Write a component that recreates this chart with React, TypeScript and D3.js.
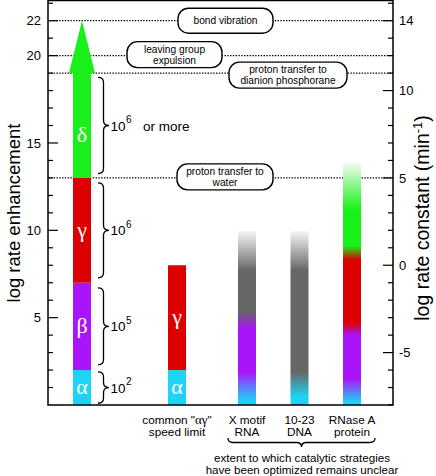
import React from 'react';
import * as d3 from 'd3';

const W = 436;
const H = 476;

// ---- data ----
const leftMajorTicks = [5, 10, 15, 20, 22];
const rightMajorTicks = [-5, 0, 5, 10, 14];
const refLevels = [
  { value: 22, lines: ['bond vibration'] },
  { value: 20, lines: ['leaving group', 'expulsion'] },
  { value: 19, lines: ['proton transfer to', 'dianion phosphorane'] },
  { value: 13, lines: ['proton transfer to', 'water'] },
];
const stepSymbols = ['α', 'β', 'γ', 'δ'];
const stepLows = [0, 2, 7, 13];
const stepHighs = [2, 7, 13, 19];
const arrowTip = 22;
const braceExponents = ['2', '5', '6', '6'];
const braceExtras = ['', '', '', 'or more'];
const limitSymbols = ['α', 'γ'];
const limitLows = [0, 2];
const limitHighs = [2, 8];
const catalysts = ['X motif', '10-23', 'RNase A'];
const catalystKinds = ['RNA', 'DNA', 'protein'];
// gradient stops: [log rate enhancement, colour]
const xMotifStops: [number, string][] = [
  [0, 'cyan'], [0.25, 'cyan'], [1.9, 'purple'], [4.3, 'purple'], [5.4, 'gray'], [7.7, 'gray'], [9.95, 'fade'],
];
const dnaStops: [number, string][] = [
  [0, 'cyan'], [0.45, 'cyan'], [1.9, 'gray'], [7.7, 'gray'], [9.95, 'fade'],
];
const rnaseStops: [number, string][] = [
  [0, 'cyan'], [0.15, 'cyan'], [1.5, 'purple'], [4.0, 'purple'], [4.7, 'red'], [8.3, 'red'], [9.1, 'green'], [11.2, 'green'], [13.85, 'fadeGreen'],
];
const catalystStops = [xMotifStops, dnaStops, rnaseStops];

// ---- style ----
const COLORS: Record<string, string> = {
  cyan: '#1ed4f6',
  purple: '#aa14fa',
  red: '#dd0000',
  green: '#19f019',
  gray: '#666666',
  fade: '#f6f6f6',
  fadeGreen: '#f2fcf2',
};
const stepColors = [COLORS.cyan, COLORS.purple, COLORS.red, COLORS.green];
const limitColors = [COLORS.cyan, COLORS.red];
const SANS = '"Liberation Sans", Arial, Helvetica, sans-serif';
const SERIF = '"Liberation Serif", "Times New Roman", serif';

const frame = { left: 48, right: 393, top: 0.5, bottom: 405 };
const boxLayout = [
  { cx: 225.5, w: 95, dy: 0 },
  { cx: 174.5, w: 95, dy: -1 },
  { cx: 288, w: 118, dy: 2 },
  { cx: 225, w: 96, dy: -1 },
];

export default function App() {
  const y = d3.scaleLinear().domain([0, 22]).range([frame.bottom, 20.7]);
  const yR = d3.scaleLinear().domain([-8, 14]).range([frame.bottom, 20.7]);
  const leftMinor = d3.range(1, 24);
  const rightMinor = d3.range(-8, 16).filter((v) => yR(v) > frame.top + 1);

  const columns = ['steps', 'limit', ...catalysts];
  const x = d3.scaleOrdinal<string, number>().domain(columns).range([82, 177, 247, 299.5, 352]);
  const barW = 18;

  const braceX = 98;
  const bracePath = (lo: number, hi: number) => {
    const y1 = y(hi);
    const y2 = y(lo);
    const ym = (y1 + y2) / 2;
    const x0 = braceX;
    const xm = x0 + 5.5;
    const xt = x0 + 11;
    const r = Math.min(5, (y2 - y1) / 4);
    return `M${x0},${y1} Q${xm},${y1} ${xm},${y1 + r} L${xm},${ym - r} Q${xm},${ym} ${xt},${ym} Q${xm},${ym} ${xm},${ym + r} L${xm},${y2 - r} Q${xm},${y2} ${x0},${y2}`;
  };
  const braceInset = [0.1, 0.3, 0.28, 0.25];

  const hBrace = (xa: number, xb: number, yt: number) => {
    const xm = (xa + xb) / 2;
    const ymid = yt + 4.5;
    const ytip = yt + 9;
    const r = 5;
    return `M${xa},${yt} Q${xa},${ymid} ${xa + r},${ymid} L${xm - r},${ymid} Q${xm},${ymid} ${xm},${ytip} Q${xm},${ymid} ${xm + r},${ymid} L${xb - r},${ymid} Q${xb},${ymid} ${xb},${yt}`;
  };

  const sx = x('steps');
  const arrowPts = [
    [sx - barW / 2, y(stepLows[3])],
    [sx - barW / 2, y(stepHighs[3])],
    [sx - 13, y(stepHighs[3])],
    [sx, y(arrowTip)],
    [sx + 13, y(stepHighs[3])],
    [sx + barW / 2, y(stepHighs[3])],
    [sx + barW / 2, y(stepLows[3])],
  ];

  return (
    <svg width={W} height={H} style={{ position: 'absolute', left: 0, top: 0, background: '#fff' }} fontFamily={SANS}>
      <defs>
        {catalystStops.map((stops, i) => {
          const top = stops[stops.length - 1][0];
          return (
            <linearGradient key={i} id={`g${i}`} gradientUnits="userSpaceOnUse" x1={0} x2={0} y1={y(0)} y2={y(top)}>
              {stops.map(([v, c], j) => (
                <stop key={j} offset={v / top} stopColor={COLORS[c]} />
              ))}
            </linearGradient>
          );
        })}
      </defs>

      {/* reference dotted lines */}
      {refLevels.map((r) => (
        <line key={r.value} x1={frame.left} x2={frame.right} y1={y(r.value)} y2={y(r.value)} stroke="#000" strokeWidth={1.2} strokeDasharray="1.4,1.4" />
      ))}

      {/* step bar */}
      {stepSymbols.map((s, i) =>
        i < 3 ? (
          <rect key={s} x={sx - barW / 2} y={y(stepHighs[i])} width={barW} height={y(stepLows[i]) - y(stepHighs[i])} fill={stepColors[i]} />
        ) : (
          <polygon key={s} points={arrowPts.map((p) => p.join(',')).join(' ')} fill={stepColors[i]} />
        )
      )}
      {stepSymbols.map((s, i) => (
        <text key={s} x={sx} y={y(i === 3 ? 15.4 : (stepLows[i] + stepHighs[i]) / 2) + 6.5} textAnchor="middle" fill="#fff" fontFamily={SERIF} fontSize={22}>
          {s}
        </text>
      ))}

      {/* braces */}
      {braceExponents.map((e, i) => {
        const lo = stepLows[i] + braceInset[i];
        const hi = stepHighs[i] - (i === 0 ? 0.1 : braceInset[i]);
        const ym = y((lo + hi) / 2);
        return (
          <g key={i}>
            <path d={bracePath(lo, hi)} fill="none" stroke="#000" strokeWidth={1.3} />
            <text x={braceX + 12.5} y={ym + 5} fontSize={13.5}>
              10
            </text>
            <text x={braceX + 28} y={ym - 2.5} fontSize={10}>
              {e}
            </text>
            {braceExtras[i] && (
              <text x={braceX + 45} y={ym + 5} fontSize={13.5}>
                {braceExtras[i]}
              </text>
            )}
          </g>
        );
      })}

      {/* common speed limit bar */}
      {limitSymbols.map((s, i) => (
        <g key={s}>
          <rect x={x('limit') - barW / 2} y={y(limitHighs[i])} width={barW} height={y(limitLows[i]) - y(limitHighs[i])} fill={limitColors[i]} />
          <text x={x('limit')} y={y((limitLows[i] + limitHighs[i]) / 2) + 6.5} textAnchor="middle" fill="#fff" fontFamily={SERIF} fontSize={22}>
            {s}
          </text>
        </g>
      ))}

      {/* catalyst gradient bars */}
      {catalysts.map((c, i) => {
        const stops = catalystStops[i];
        const top = stops[stops.length - 1][0];
        return <rect key={c} x={x(c) - barW / 2} y={y(top)} width={barW} height={y(0) - y(top)} fill={`url(#g${i})`} />;
      })}

      {/* label boxes */}
      {refLevels.map((r, i) => {
        const b = boxLayout[i];
        const cy = y(r.value) + b.dy;
        const h = r.lines.length > 1 ? 26 : 25;
        return (
          <g key={r.value}>
            <rect x={b.cx - b.w / 2} y={cy - h / 2} width={b.w} height={h} rx={10.5} fill="#fff" stroke="#000" strokeWidth={1.4} />
            {r.lines.map((l, j) => (
              <text key={j} x={b.cx} y={cy + 3.6 + (j - (r.lines.length - 1) / 2) * 10.6} textAnchor="middle" fontSize={10.2}>
                {l}
              </text>
            ))}
          </g>
        );
      })}

      {/* frame */}
      <rect x={frame.left} y={frame.top} width={frame.right - frame.left} height={frame.bottom - frame.top} fill="none" stroke="#000" strokeWidth={1.5} />

      {/* left ticks */}
      {leftMinor.map((v) => {
        const major = leftMajorTicks.includes(v);
        return <line key={v} x1={frame.left} x2={frame.left + (major ? 10 : 5)} y1={y(v)} y2={y(v)} stroke="#000" strokeWidth={1.2} />;
      })}
      {leftMajorTicks.map((v) => (
        <text key={v} x={41} y={y(v) + 4.7} textAnchor="end" fontSize={13}>
          {v}
        </text>
      ))}
      {/* right ticks */}
      {rightMinor.map((v) => {
        const major = rightMajorTicks.includes(v);
        return <line key={v} x1={frame.right} x2={frame.right - (major ? 10 : 5)} y1={yR(v)} y2={yR(v)} stroke="#000" strokeWidth={1.2} />;
      })}
      {rightMajorTicks.map((v) => (
        <text key={v} x={399} y={yR(v) + 4.7} textAnchor="start" fontSize={13}>
          {v}
        </text>
      ))}

      {/* axis titles */}
      <text transform={`translate(19.5,213) rotate(-90)`} textAnchor="middle" fontSize={18.5}>
        log rate enhancement
      </text>
      <text transform={`translate(429,218) rotate(-90)`} textAnchor="middle" fontSize={19.5}>
        log rate constant (min<tspan fontSize={13} dy={-7}>-1</tspan>
        <tspan dy={7}>)</tspan>
      </text>

      {/* bottom labels */}
      <text x={x('limit')} y={423.5} textAnchor="middle" fontSize={11.8}>
        common "<tspan fontFamily={SERIF} fontSize={13}>αγ</tspan>"
      </text>
      <text x={x('limit')} y={436} textAnchor="middle" fontSize={11.8}>
        speed limit
      </text>
      {catalysts.map((c, i) => (
        <g key={c}>
          <text x={x(c)} y={423.5} textAnchor="middle" fontSize={11.8}>
            {c}
          </text>
          <text x={x(c)} y={436} textAnchor="middle" fontSize={11.8}>
            {catalystKinds[i]}
          </text>
        </g>
      ))}
      <path d={hBrace(228, 375, 438)} fill="none" stroke="#000" strokeWidth={1.3} />
      <text x={302} y={462} textAnchor="middle" fontSize={11.6}>
        extent to which catalytic strategies
      </text>
      <text x={302} y={474} textAnchor="middle" fontSize={11.6}>
        have been optimized remains unclear
      </text>
    </svg>
  );
}
